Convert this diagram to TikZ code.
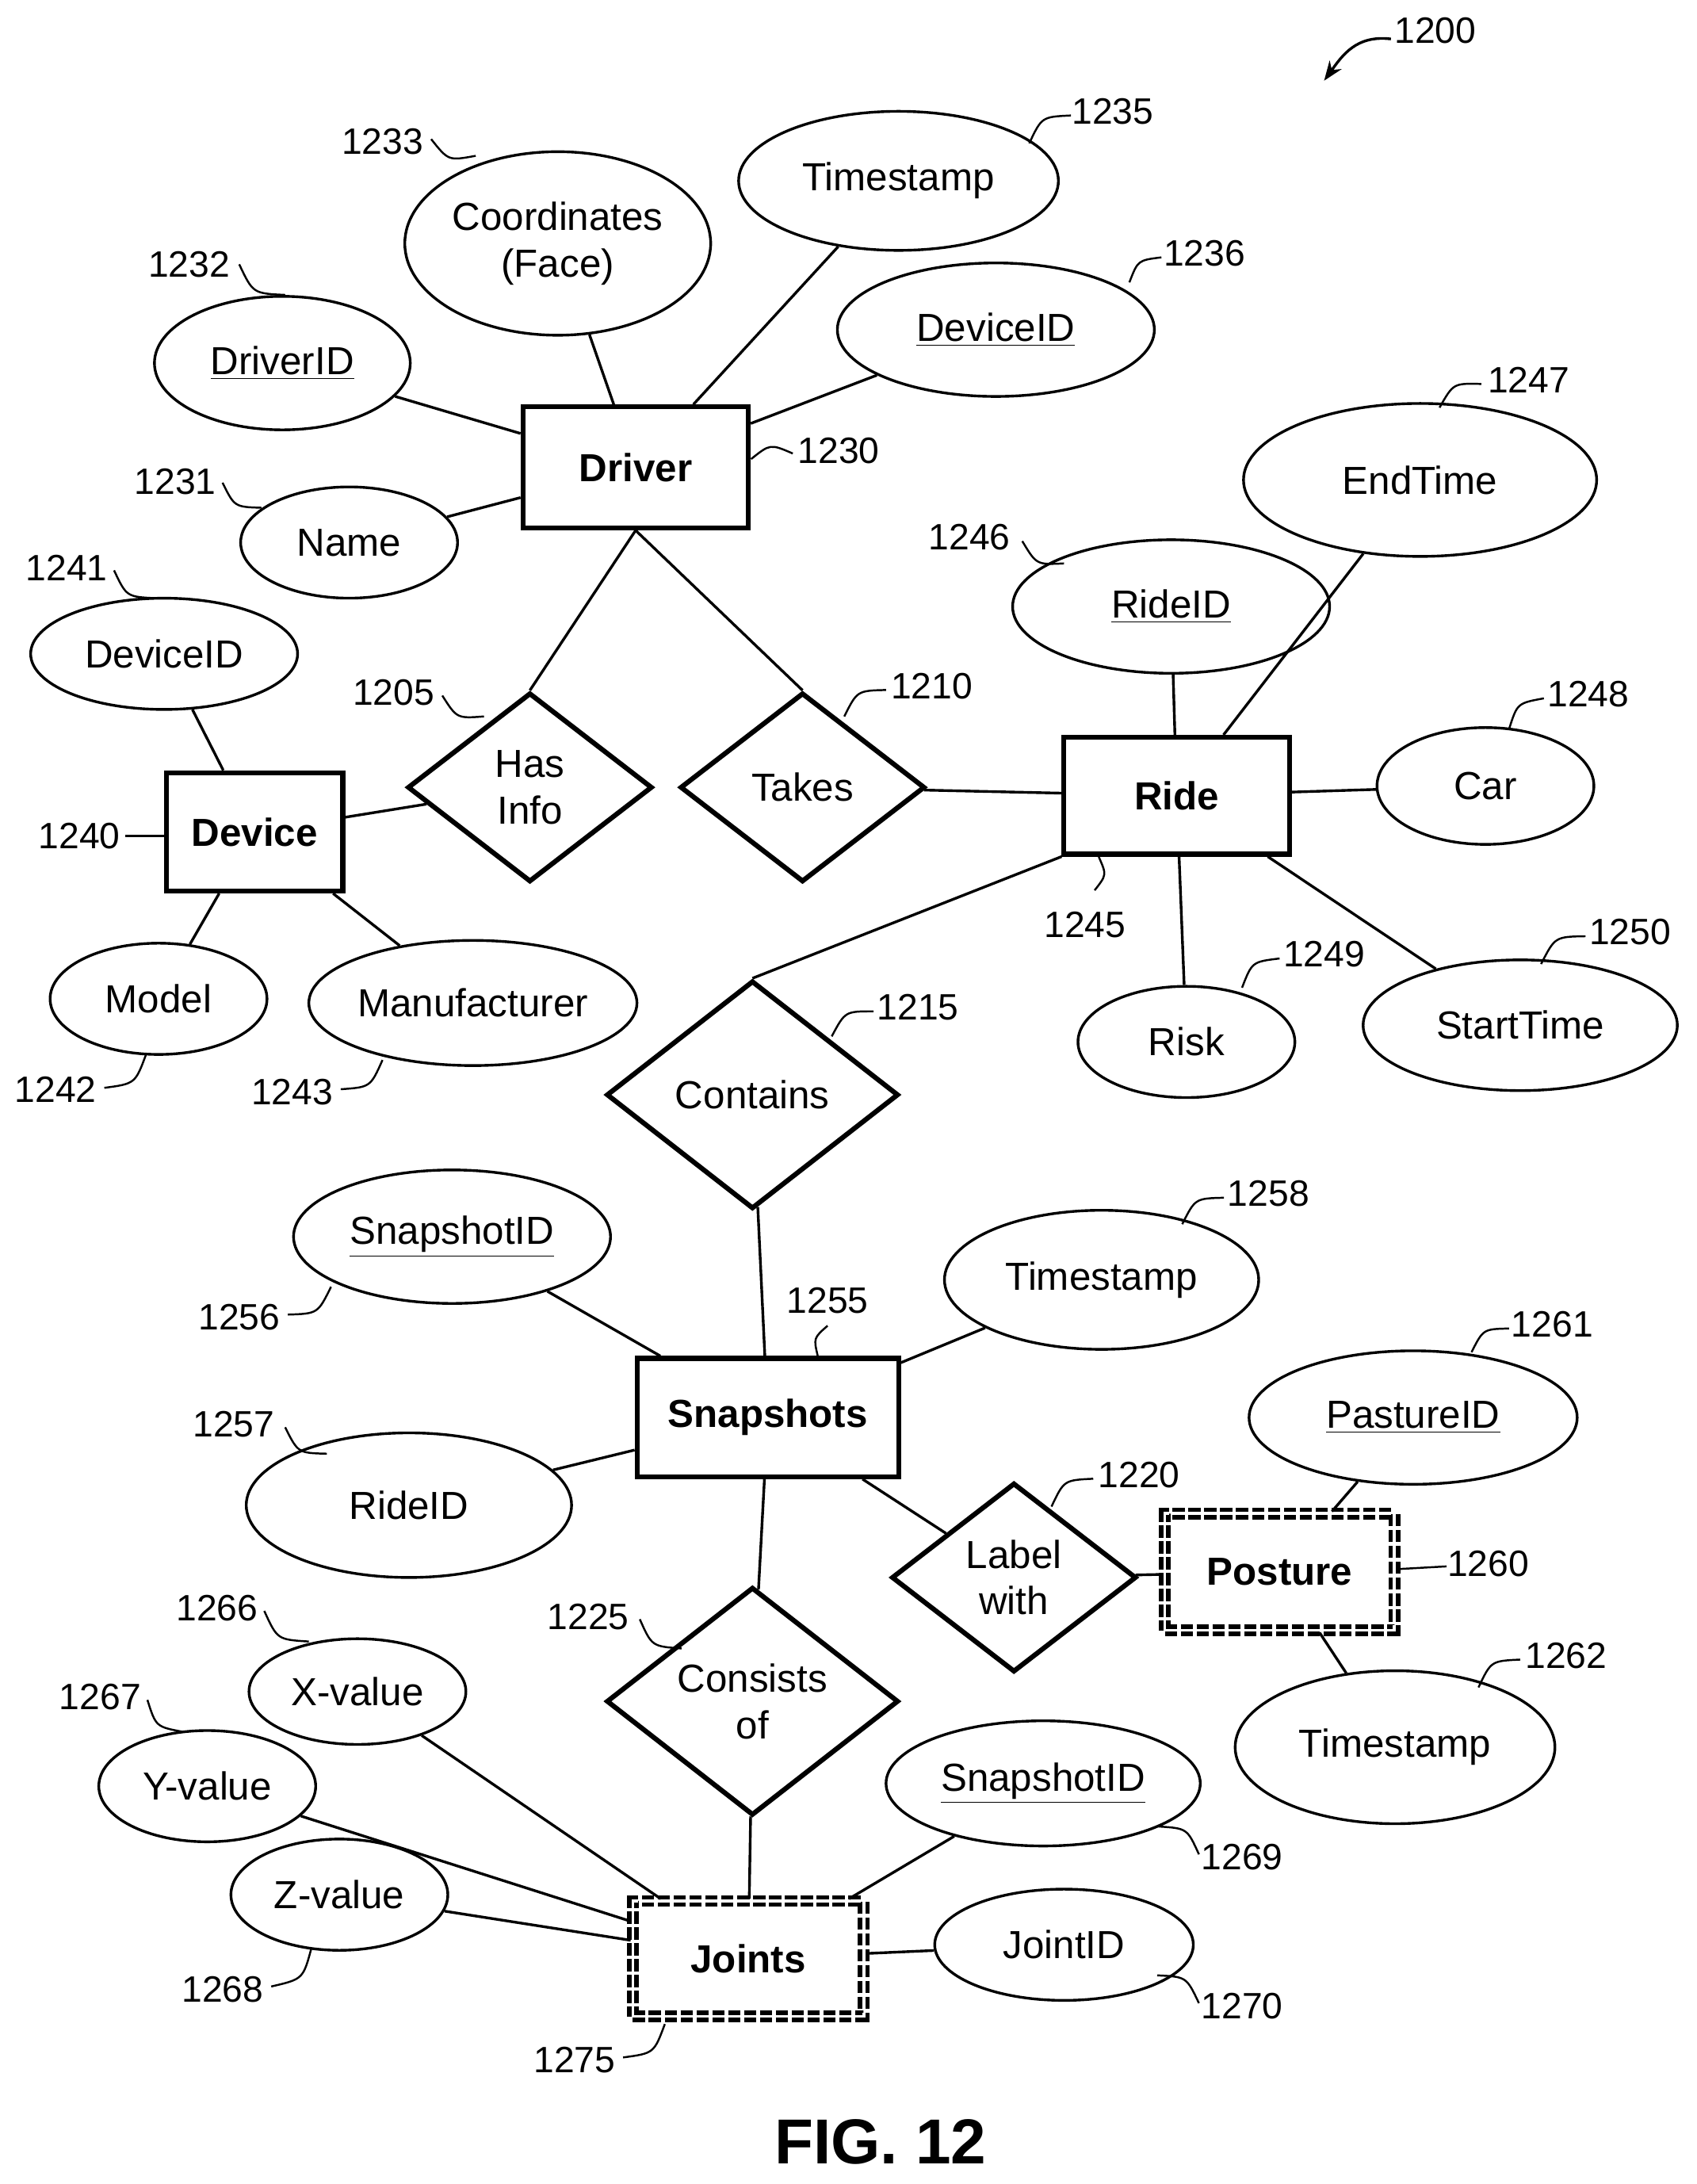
\documentclass[tikz,border=0pt]{standalone}
\usepackage{fontspec}
\setmainfont{Liberation Sans}
\usetikzlibrary{shapes.geometric,arrows.meta}
\begin{document}
\begin{tikzpicture}[x=0.02cm,y=-0.02cm,line width=1.1pt,font=\fontsize{16}{19}\selectfont,
 ell/.style 2 args={ellipse,draw,inner sep=0pt,minimum width=#1*0.04cm,minimum height=#2*0.04cm,align=center},
 ent/.style 2 args={rectangle,draw,line width=2pt,inner sep=0pt,minimum width=#1*0.02cm,minimum height=#2*0.02cm,font=\fontsize{16}{19}\selectfont\bfseries},
 went/.style 2 args={ent={#1}{#2},double=white,double distance=1.2pt,dash pattern=on 5pt off 1.5pt,line width=1.8pt},
 rel/.style={diamond,draw,line width=2pt,inner sep=0pt,minimum width=176*0.02cm,minimum height=136*0.02cm,align=center},
 rel2/.style={rel,minimum width=210*0.02cm,minimum height=164*0.02cm},
 lab/.style={font=\fontsize{15}{18}\selectfont,inner sep=1pt}]
\useasboundingbox (0,0) rectangle (1220,1570);
% entities
\node[ent={162}{87}] (drv) at (457,336) {Driver};
\node[ent={127}{85}] (dev) at (183,598) {Device};
\node[ent={162}{84}] (ride) at (846,572) {Ride};
\node[ent={188}{85}] (snap) at (552,1019) {Snapshots};
\node[went={165}{84}] (post) at (920,1130) {Posture};
\node[went={166}{83}] (joint) at (538,1408) {Joints};
% relationships
\node[rel] (has) at (381,566) {Has\\Info};
\node[rel] (takes) at (577,566) {Takes};
\node[rel2] (cont) at (541,787) {Contains};
\node[rel] (lbl) at (729,1134) {Label\\with};
\node[rel2] (cons) at (541,1223) {Consists\\of};
% attributes
\node[ell={110}{66}] (coord) at (401,175) {Coordinates\\(Face)};
\node[ell={115}{50}] (ts1) at (646,130) {Timestamp};
\node[ell={114}{48}] (did1) at (716,237) {\underline{DeviceID}};
\node[ell={92}{48}] (drid) at (203,261) {\underline{DriverID}};
\node[ell={78}{40}] (name) at (251,390) {Name};
\node[ell={96}{40}] (did2) at (118,470) {DeviceID};
\node[ell={78}{40}] (model) at (114,718) {Model};
\node[ell={118}{45}] (manu) at (340,721) {Manufacturer};
\node[ell={127}{55}] (endt) at (1021,345) {EndTime};
\node[ell={114}{48}] (rid1) at (842,436) {\underline{RideID}};
\node[ell={78}{42}] (car) at (1068,565) {Car};
\node[ell={78}{40}] (risk) at (853,749) {Risk};
\node[ell={113}{47}] (startt) at (1093,737) {StartTime};
\node[ell={114}{48}] (sid1) at (325,889) {\underline{SnapshotID}};
\node[ell={117}{52}] (rid2) at (294,1082) {RideID};
\node[ell={113}{50}] (ts2) at (792,920) {Timestamp};
\node[ell={118}{48}] (pid) at (1016,1019) {\underline{PastureID}};
\node[ell={115}{55}] (ts3) at (1003,1256) {Timestamp};
\node[ell={78}{38}] (xv) at (257,1216) {X-value};
\node[ell={78}{40}] (yv) at (149,1284) {Y-value};
\node[ell={78}{40}] (zv) at (244,1362) {Z-value};
\node[ell={113}{45}] (sid2) at (750,1282) {\underline{SnapshotID}};
\node[ell={93}{40}] (jid) at (765,1398) {JointID};
% connectors
\foreach \a/\b in {drv/coord,drv/ts1,drv/did1,drv/drid,drv/name,has/dev,dev/did2,dev/model,dev/manu,takes/ride,ride/rid1,ride/endt,ride/car,ride/risk,ride/startt,cont/snap,snap/sid1,snap/rid2,snap/ts2,snap/lbl,lbl/post,post/pid,post/ts3,snap/cons,cons/joint,joint/xv,joint/yv,joint/zv,joint/sid2,joint/jid}
  \draw (\a) -- (\b);
\draw (drv.south) -- (has.north);
\draw (drv.south) -- (takes.north);
\draw (ride.south west) -- (cont.north);
% reference labels
\node[lab] at (1032,22) {1200};
\draw[-{Stealth[length=8pt]}] (1000,28) .. controls (975,25) and (965,40) .. (952,58);
\foreach \t/\tx/\ty/\ax/\ay/\bx/\by in {
1233/275/102/310/100/342/112, 1235/800/80/770/83/740/103, 1232/136/190/172/190/205/212,
1236/866/182/835/185/812/203, 1230/603/324/570/326/540/330, 1231/126/346/160/347/188/365,
1247/1099/273/1065/276/1035/293, 1246/697/386/735/389/765/405, 1241/48/408/82/410/112/430,
1205/283/498/318/500/348/515, 1210/670/493/637/496/607/515, 1248/1142/499/1110/502/1085/524,
1245/780/665/787/640/790/616, 1249/952/686/920/689/893/710,
1250/1172/670/1140/673/1108/693, 1215/660/724/628/727/598/745, 1242/40/783/75/782/105/758,
1243/210/785/245/783/275/762, 1258/912/858/880/861/850/880, 1256/172/947/207/945/238/925,
1255/595/935/595/953/588/975, 1261/1116/952/1085/955/1058/972, 1257/168/1024/205/1026/235/1045,
1220/819/1060/786/1063/756/1083, 1225/423/1162/460/1164/490/1185,
1266/156/1156/190/1158/222/1180, 1262/1126/1190/1093/1193/1063/1213, 1267/72/1220/106/1222/132/1245,
1269/893/1335/862/1333/833/1313, 1268/160/1430/195/1428/224/1400, 1270/893/1442/862/1440/832/1420,
1275/413/1481/448/1479/478/1455}{
  \node[lab] at (\tx,\ty) {\t};
  \draw[line width=0.8pt] (\ax,\ay) .. controls ({(\ax+\bx)/2+0.3*(\ay-\by)},{(\ay+\by)/2-0.3*(\ax-\bx)}) .. (\bx,\by);
}
\node[lab] at (57,601) {1240};
\draw[line width=0.8pt] (90,601) -- (120,601);
\node[lab] at (1070,1124) {1260};
\draw[line width=0.8pt] (1040,1126) -- (1004,1128);
\node[font=\fontsize{26}{30}\selectfont\bfseries] at (633,1540) {FIG. 12};
\end{tikzpicture}
\end{document}
